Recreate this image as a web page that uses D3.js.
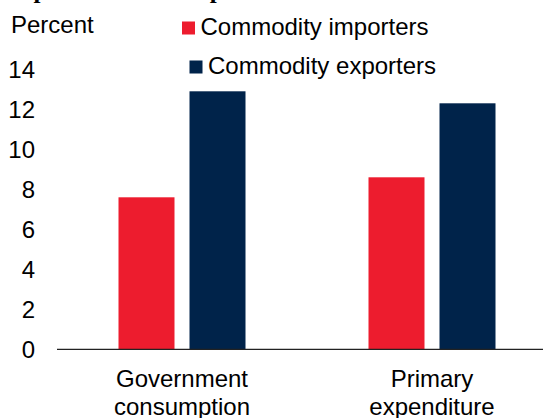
<!DOCTYPE html>
<html>
<head>
<meta charset="utf-8">
<script src="https://cdn.jsdelivr.net/npm/d3@7"></script>
<style>
    body { margin: 0; background: #fff; }
    svg { display: block; font-family: "Liberation Sans", Arial, sans-serif; }
</style>
</head>
<body>
<div id="chart"></div>
<script>
// data
var categories = [["Government", "consumption"], ["Primary", "expenditure"]];
var seriesNames = ["Commodity importers", "Commodity exporters"];
var importers = [7.6, 8.6];
var exporters = [12.9, 12.3];
var yTicks = [0, 2, 4, 6, 8, 10, 12, 14];
var colors = ["#ED1C2E", "#00234A"];

// size
var svgW = 543, svgH = 418;
var plot = {left: 57, right: 557, top: 69.3, bottom: 349.3};

var svg = d3.select("#chart").append("svg")
    .attr("width", svgW)
    .attr("height", svgH);

// cropped title, only the descenders are visible
svg.append("text")
    .attr("x", 3)
    .attr("y", -2)
    .style("font-family", "'Liberation Serif', 'Times New Roman', serif")
    .style("font-weight", "bold")
    .style("font-size", "25px")
    .text("Impact of resource price shocks");

var xScale = d3.scaleBand()
    .domain(d3.range(categories.length))
    .range([plot.left, plot.right]);

var barW = 56, gap = 15;

var yScale = d3.scaleLinear()
    .domain([0, 14])
    .range([plot.bottom, plot.top]);

// y tick labels
svg.append("g").selectAll("text")
    .data(yTicks)
    .enter().append("text")
    .attr("x", 35)
    .attr("y", function(d){ return yScale(d); })
    .attr("dy", "0.36em")
    .attr("text-anchor", "end")
    .style("font-size", "24px")
    .style("fill", "#000")
    .text(function(d){ return d; });

svg.append("text")
    .attr("x", 11)
    .attr("y", 33)
    .style("font-size", "24px")
    .text("Percent");

// bars
var seriesData = [importers, exporters];
seriesData.forEach(function(values, s){
    svg.append("g").selectAll("rect")
        .data(values)
        .enter().append("rect")
        .attr("x", function(d, i){
            var c = xScale(i) + xScale.bandwidth() / 2;
            return s == 0 ? c - gap / 2 - barW : c + gap / 2;
        })
        .attr("y", function(d){ return yScale(d); })
        .attr("width", barW)
        .attr("height", function(d){ return yScale(0) - yScale(d); })
        .style("fill", colors[s]);
});

// x axis line
svg.append("line")
    .attr("x1", plot.left)
    .attr("x2", plot.right)
    .attr("y1", yScale(0))
    .attr("y2", yScale(0))
    .style("stroke", "#222")
    .style("stroke-width", 1.3);

// category labels
var catG = svg.append("g").selectAll("text")
    .data(categories)
    .enter().append("text")
    .attr("text-anchor", "middle")
    .style("font-size", "24px")
    .attr("x", function(d, i){ return xScale(i) + xScale.bandwidth() / 2; })
    .attr("y", 387);
catG.selectAll("tspan")
    .data(function(d){ return d; })
    .enter().append("tspan")
    .attr("x", function(){ return d3.select(this.parentNode).attr("x"); })
    .attr("dy", function(d, i){ return i == 0 ? 0 : 28; })
    .text(function(d){ return d; });

// legend
var legendPos = [{x: 182, y: 35}, {x: 189.5, y: 74}];
seriesNames.forEach(function(name, i){
    var p = legendPos[i];
    svg.append("rect")
        .attr("x", p.x)
        .attr("y", p.y - 13.5)
        .attr("width", 13)
        .attr("height", 13)
        .style("fill", colors[i]);
    svg.append("text")
        .attr("x", p.x + 18.5)
        .attr("y", p.y)
        .style("font-size", "24px")
        .text(name);
});
</script>
</body>
</html>
